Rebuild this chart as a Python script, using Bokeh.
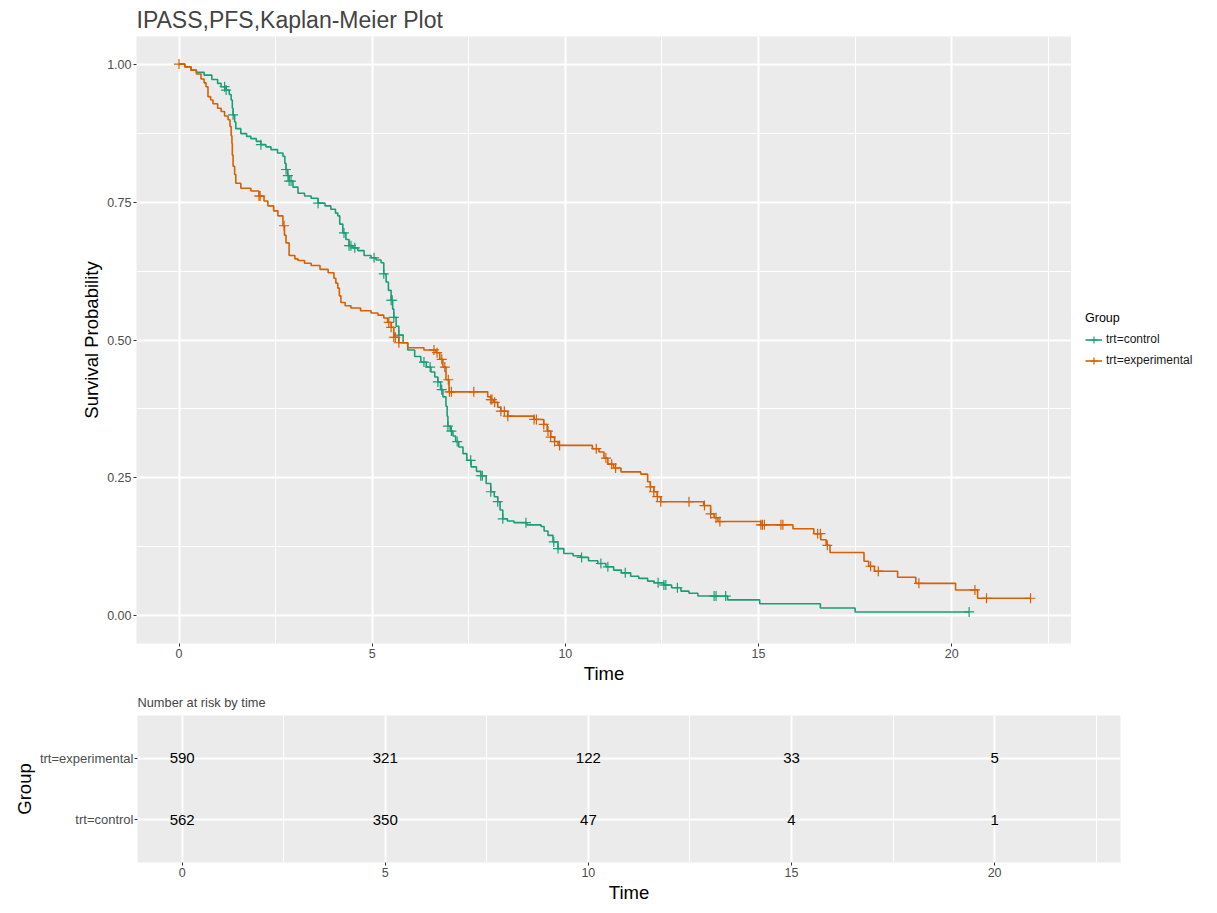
import numpy as np
from bokeh.plotting import figure
from bokeh.models import (Legend, LegendItem, FixedTicker, FactorRange, Range1d,
                          ColumnDataSource)
from bokeh.layouts import row
from bokeh.embed import file_html
from bokeh.resources import INLINE
from bokeh.core.properties import value

# ---------------- data ----------------
ctrl_time = [0, 0.15, 0.31, 0.45, 0.65, 0.85, 1.0, 1.09, 1.22, 1.30, 1.35, 1.38, 1.40, 1.44,
             1.47, 1.60, 1.75, 1.86, 2.0, 2.12, 2.25, 2.38, 2.55, 2.69, 2.74, 2.77, 2.81, 2.85,
             2.95, 3.08, 3.25, 3.42, 3.6, 3.78, 3.93, 4.05, 4.11, 4.16, 4.24, 4.32, 4.40, 4.50,
             4.63, 4.79, 4.97, 5.1, 5.23, 5.30, 5.36, 5.42, 5.49, 5.53, 5.56, 5.62, 5.69, 5.8,
             5.92, 6.1, 6.26, 6.4, 6.52, 6.62, 6.70, 6.77, 6.83, 6.91, 6.94, 6.96, 7.02, 7.09,
             7.16, 7.24, 7.35, 7.45, 7.56, 7.7, 7.81, 7.95, 8.07, 8.16, 8.25, 8.31, 8.38, 8.5,
             8.67, 9.0, 9.37, 9.45, 9.55, 9.68, 9.81, 9.96, 10.2, 10.40, 10.6, 10.84, 11.05,
             11.25, 11.45, 11.69, 11.9, 12.13, 12.3, 12.55, 12.75, 12.99, 13.2, 13.43, 14.2,
             15.03, 16.6, 17.5, 20.45]
ctrl_surv = [1.0, 0.995, 0.989, 0.985, 0.980, 0.972, 0.965, 0.959, 0.953, 0.945, 0.935, 0.92,
             0.908, 0.895, 0.883, 0.874, 0.869, 0.865, 0.860, 0.854, 0.850, 0.845, 0.839, 0.833,
             0.82, 0.809, 0.798, 0.788, 0.777, 0.766, 0.761, 0.757, 0.748, 0.743, 0.737, 0.73,
             0.725, 0.71, 0.694, 0.682, 0.671, 0.667, 0.662, 0.653, 0.649, 0.645, 0.640, 0.620,
             0.605, 0.59, 0.572, 0.556, 0.541, 0.525, 0.509, 0.495, 0.482, 0.470, 0.460, 0.451,
             0.442, 0.433, 0.424, 0.41, 0.397, 0.380, 0.362, 0.344, 0.335, 0.326, 0.316, 0.306,
             0.294, 0.282, 0.270, 0.262, 0.254, 0.240, 0.225, 0.216, 0.207, 0.192, 0.176, 0.172,
             0.169, 0.165, 0.162, 0.154, 0.146, 0.134, 0.122, 0.113, 0.109, 0.106, 0.100, 0.095,
             0.089, 0.083, 0.078, 0.072, 0.068, 0.063, 0.060, 0.056, 0.051, 0.045, 0.041, 0.036,
             0.029, 0.022, 0.0144, 0.0072, 0.0072]
ctrl_censor = [1.18, 1.22, 1.40, 2.12, 2.77, 2.82, 2.85, 2.9, 3.6, 4.27, 4.40, 4.45, 4.55, 5.05,
               5.30, 5.49, 5.52, 5.56, 5.69, 6.34, 6.5, 6.7, 6.8, 6.96, 7.05, 7.2, 7.55, 7.81,
               7.85, 8.07, 8.25, 8.38, 8.98, 9.7, 9.81, 10.42, 10.92, 11.1, 11.55, 12.4, 12.55,
               12.6, 12.9, 13.85, 13.9, 14.15, 20.45]

exp_time = [0, 0.15, 0.31, 0.45, 0.57, 0.65, 0.70, 0.75, 0.82, 0.88, 1.0, 1.09, 1.18, 1.27,
            1.32, 1.35, 1.37, 1.38, 1.40, 1.44, 1.47, 1.60, 1.86, 2.07, 2.2, 2.30, 2.45, 2.56,
            2.69, 2.73, 2.77, 2.85, 3.0, 3.08, 3.25, 3.42, 3.65, 3.86, 4.01, 4.06, 4.11, 4.15,
            4.19, 4.3, 4.45, 4.7, 4.97, 5.15, 5.30, 5.4, 5.49, 5.56, 5.69, 5.92, 6.34, 6.65,
            6.75, 6.83, 6.91, 6.99, 7.99, 8.07, 8.15, 8.25, 8.33, 8.51, 9.19, 9.44, 9.53, 9.62,
            9.72, 9.81, 10.70, 10.87, 11.0, 11.10, 11.25, 11.44, 11.95, 12.13, 12.2, 12.29,
            12.38, 12.47, 13.58, 13.76, 13.85, 13.95, 15.06, 15.89, 16.43, 16.61, 16.75, 16.85,
            17.73, 17.85, 18.0, 18.6, 19.07, 20.1, 20.67, 22.04]
exp_surv = [1.0, 0.995, 0.989, 0.982, 0.973, 0.966, 0.959, 0.941, 0.935, 0.928, 0.92, 0.914,
            0.906, 0.899, 0.887, 0.87, 0.856, 0.835, 0.815, 0.80, 0.784, 0.775, 0.770, 0.761,
            0.752, 0.743, 0.734, 0.725, 0.707, 0.69, 0.676, 0.653, 0.647, 0.644, 0.639, 0.635,
            0.628, 0.622, 0.612, 0.603, 0.594, 0.58, 0.568, 0.562, 0.558, 0.553, 0.549, 0.545,
            0.540, 0.532, 0.523, 0.505, 0.495, 0.486, 0.482, 0.477, 0.465, 0.451, 0.428, 0.406,
            0.397, 0.392, 0.387, 0.378, 0.371, 0.362, 0.356, 0.347, 0.335, 0.324, 0.316, 0.309,
            0.303, 0.297, 0.286, 0.275, 0.268, 0.261, 0.257, 0.243, 0.234, 0.225, 0.216, 0.207,
            0.200, 0.185, 0.178, 0.171, 0.165, 0.158, 0.149, 0.138, 0.128, 0.115, 0.099, 0.09,
            0.081, 0.070, 0.059, 0.047, 0.032, 0.032]
exp_censor = [0.0, 2.07, 2.1, 2.72, 5.43, 5.49, 5.56, 5.6, 5.69, 6.6, 6.68, 6.8, 6.88, 6.97,
              7.0, 7.05, 7.63, 8.07, 8.1, 8.17, 8.33, 8.42, 8.51, 9.19, 9.25, 9.44, 9.55, 9.62,
              9.72, 9.85, 10.8, 11.05, 11.2, 11.3, 12.2, 12.29, 12.38, 12.47, 13.2, 13.6, 13.76,
              13.9, 14.0, 15.06, 15.1, 15.15, 15.58, 15.63, 16.53, 16.6, 16.78, 17.9, 18.1,
              19.15, 20.6, 20.9, 22.04]

groups = ["trt=control", "trt=experimental"]
risk_times = [0, 5, 10, 15, 20]
risk_control = [562, 350, 47, 4, 1]
risk_experimental = [590, 321, 122, 33, 5]

x_ticks = [0, 5, 10, 15, 20]
y_ticks = [0.0, 0.25, 0.5, 0.75, 1.0]
y_tick_labels = {0.0: "0.00", 0.25: "0.25", 0.5: "0.50", 0.75: "0.75", 1.0: "1.00"}

# ---------------- style ----------------
FONT = "Liberation Sans"
GREEN = "#1B9E77"
ORANGE = "#D95F02"
PANEL = "#EBEBEB"
TICK_TXT = "#4D4D4D"


def step_at(times, surv, pts):
    t = np.asarray(times)
    s = np.asarray(surv)
    idx = np.searchsorted(t, np.asarray(pts), side="right") - 1
    return s[np.clip(idx, 0, len(s) - 1)]


def style_axes(fig):
    for ax in (fig.xaxis[0], fig.yaxis[0]):
        ax.axis_line_color = None
        ax.major_tick_line_color = "#333333"
        ax.major_tick_out = 3
        ax.major_tick_in = 0
        ax.minor_tick_line_color = None
        ax.major_label_text_font = FONT
        ax.major_label_text_color = TICK_TXT
        ax.axis_label_text_font = FONT
        ax.axis_label_text_font_style = "normal"
        ax.axis_label_text_color = "black"
        ax.axis_label_text_font_size = "18.5px"
        ax.major_label_standoff = 1
        ax.axis_label_standoff = 2


# ---------------- main KM plot ----------------
p = figure(width=1071, height=686, output_backend="svg", toolbar_location=None,
           x_range=Range1d(-1.1, 23.1), y_range=Range1d(-0.05, 1.05),
           min_border_left=136, min_border_right=0, min_border_top=34,
           min_border_bottom=40)
p.background_fill_color = PANEL
p.border_fill_color = "white"
p.outline_line_color = None
p.title.text = "IPASS,PFS,Kaplan-Meier Plot"
p.title.text_font = FONT
p.title.text_font_size = "23px"
p.title.text_font_style = "normal"
p.title.align = "left"
p.title.standoff = 8

p.xaxis.ticker = FixedTicker(ticks=x_ticks, minor_ticks=[2.5, 7.5, 12.5, 17.5, 22.5])
p.yaxis.ticker = FixedTicker(ticks=y_ticks, minor_ticks=[0.125, 0.375, 0.625, 0.875])
p.yaxis.major_label_overrides = y_tick_labels
style_axes(p)
p.xaxis.major_label_text_font_size = "12.5px"
p.yaxis.major_label_text_font_size = "12.5px"
p.xaxis.axis_label = "Time"
p.yaxis.axis_label = "Survival Probability"
for g in (p.xgrid[0], p.ygrid[0]):
    g.grid_line_color = "white"
    g.grid_line_width = 2
    g.minor_grid_line_color = "white"
    g.minor_grid_line_width = 1

src_c = ColumnDataSource(dict(t=ctrl_time, s=ctrl_surv))
src_e = ColumnDataSource(dict(t=exp_time, s=exp_surv))
p.step(x="t", y="s", source=src_c, mode="after", line_color=GREEN, line_width=1.6)
p.step(x="t", y="s", source=src_e, mode="after", line_color=ORANGE, line_width=1.6)
p.scatter(x=ctrl_censor, y=step_at(ctrl_time, ctrl_surv, ctrl_censor).tolist(),
          marker="cross", size=10, line_color=GREEN, line_width=1.2)
p.scatter(x=exp_censor, y=step_at(exp_time, exp_surv, exp_censor).tolist(),
          marker="cross", size=10, line_color=ORANGE, line_width=1.2)

# ---------------- legend (own small canvas to the right) ----------------
lg = figure(width=130, height=686, output_backend="svg", toolbar_location=None,
            x_axis_location=None, y_axis_location=None, min_border=0,
            x_range=Range1d(0, 1), y_range=Range1d(0, 1))
lg.outline_line_color = None
lg.background_fill_color = "white"
lg.border_fill_color = "white"
lg.grid.visible = False
# key renderers sit outside the visible range; only their legend glyphs are shown
off = [-5, -4]
k_lc = lg.line(x=off, y=off, line_color=GREEN, line_width=1.6)
k_mc = lg.scatter(x=off, y=off, marker="cross", size=10, line_color=GREEN, line_width=1.2)
k_le = lg.line(x=off, y=off, line_color=ORANGE, line_width=1.6)
k_me = lg.scatter(x=off, y=off, marker="cross", size=10, line_color=ORANGE, line_width=1.2)
legend = Legend(items=[LegendItem(label=groups[0], renderers=[k_lc, k_mc]),
                       LegendItem(label=groups[1], renderers=[k_le, k_me])],
                title="Group", location="center_left", margin=14, padding=3,
                glyph_width=17, glyph_height=17, spacing=4, label_standoff=4,
                title_standoff=6)
legend.label_text_font = FONT
legend.label_text_font_size = "12px"
legend.label_text_color = "#1a1a1a"
legend.title_text_font = FONT
legend.title_text_font_size = "12.5px"
legend.title_text_font_style = "normal"
legend.title_text_color = "black"
legend.background_fill_alpha = 0
legend.border_line_color = None
lg.add_layout(legend)

# ---------------- risk table ----------------
r = figure(width=1201, height=219, output_backend="svg", toolbar_location=None,
           x_range=Range1d(-1.1, 23.1),
           y_range=FactorRange(factors=groups, range_padding=0.2,
                               range_padding_units="absolute"),
           min_border_left=137, min_border_right=81, min_border_top=27,
           min_border_bottom=38)
r.background_fill_color = PANEL
r.border_fill_color = "white"
r.outline_line_color = None
r.title.text = "Number at risk by time"
r.title.text_font = FONT
r.title.text_font_size = "12.8px"
r.title.text_font_style = "normal"
r.title.align = "left"
r.title.standoff = 12
r.xaxis.ticker = FixedTicker(ticks=x_ticks, minor_ticks=[2.5, 7.5, 12.5, 17.5, 22.5])
style_axes(r)
r.xaxis.major_label_text_font_size = "12.5px"
r.yaxis.major_label_text_font_size = "13px"
r.xaxis.axis_label = "Time"
r.yaxis.axis_label = "Group"
r.xgrid.grid_line_color = "white"
r.xgrid.grid_line_width = 2
r.xgrid.minor_grid_line_color = "white"
r.xgrid.minor_grid_line_width = 1
r.ygrid.grid_line_color = "white"
r.ygrid.grid_line_width = 2

tx = risk_times + risk_times
ty = [groups[1]] * len(risk_times) + [groups[0]] * len(risk_times)
tt = [str(v) for v in risk_experimental] + [str(v) for v in risk_control]
r.text(x=tx, y=ty, text=tt, text_align="center", text_baseline="middle",
       text_font=value(FONT), text_font_size="15px", text_color="black")

open("out.html", "w").write(file_html([row(p, lg), r], INLINE))
